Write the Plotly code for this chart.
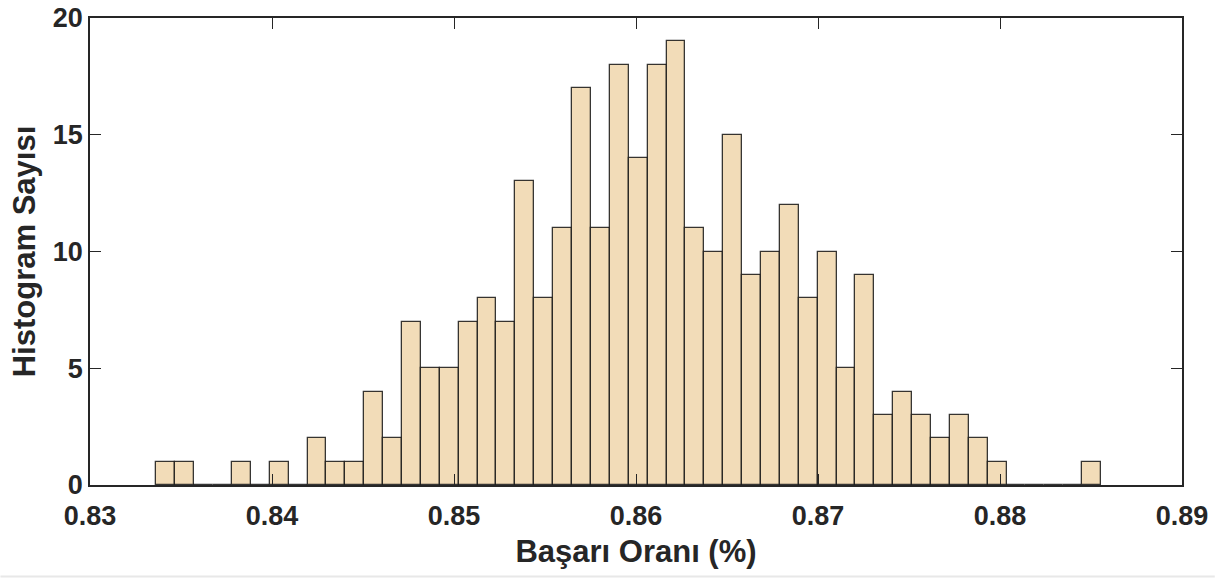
import plotly.graph_objects as go

# Histogram of success rates: 50 equal-width bins
bin_start = 0.83365
bin_width = 0.001038
counts = [1, 1, 0, 0, 1, 0, 1, 0, 2, 1,
          1, 4, 2, 7, 5, 5, 7, 8, 7, 13,
          8, 11, 17, 11, 18, 14, 18, 19, 11, 10,
          15, 9, 10, 12, 8, 10, 5, 9, 3, 4,
          3, 2, 3, 2, 1, 0, 0, 0, 0, 1]
x_ticks = [0.83, 0.84, 0.85, 0.86, 0.87, 0.88, 0.89]
x_tick_text = ["0.83", "0.84", "0.85", "0.86", "0.87", "0.88", "0.89"]
y_ticks = [0, 5, 10, 15, 20]

centers = [bin_start + (i + 0.5) * bin_width for i in range(len(counts))]

FONT = "Liberation Sans, Arial, sans-serif"
AX = "#262626"

fig = go.Figure()
fig.add_trace(go.Bar(
    x=centers,
    y=counts,
    width=bin_width,
    marker=dict(color="#F2DCB8", line=dict(color="rgba(20,20,20,0.85)", width=1.3)),
    showlegend=False,
    hoverinfo="x+y",
))

fig.update_layout(
    width=1227,
    height=578,
    margin=dict(l=90, r=45, t=18, b=93, pad=0),
    paper_bgcolor="white",
    plot_bgcolor="white",
    bargap=0,
    font=dict(family=FONT, color=AX),
    xaxis=dict(
        range=[0.83, 0.89],
        tickvals=x_ticks,
        ticktext=x_tick_text,
        ticks="inside",
        ticklen=11,
        tickwidth=1.3,
        tickcolor=AX,
        showline=True,
        linecolor=AX,
        linewidth=1.5,
        mirror="ticks",
        showgrid=False,
        zeroline=False,
        automargin=False,
        ticklabelstandoff=6,
        tickfont=dict(family=FONT, size=27, color=AX, weight="bold"),
        title=dict(text="<b>Başarı Oranı (%)</b>",
                   font=dict(family=FONT, size=31, color=AX), standoff=10),
    ),
    yaxis=dict(
        range=[0, 20],
        tickvals=y_ticks,
        ticks="inside",
        ticklen=11,
        tickwidth=1.3,
        tickcolor=AX,
        showline=True,
        linecolor=AX,
        linewidth=1.5,
        mirror="ticks",
        showgrid=False,
        zeroline=False,
        automargin=False,
        tickfont=dict(family=FONT, size=27, color=AX, weight="bold"),
        title=dict(text="<b>Histogram Sayısı</b>",
                   font=dict(family=FONT, size=31, color=AX), standoff=8),
    ),
    shapes=[dict(type="line", xref="paper", yref="paper",
                 x0=-0.082, x1=1.03, y0=-0.196, y1=-0.196,
                 line=dict(color="#e8e8e8", width=2))],
)

fig.write_html("out.html")
